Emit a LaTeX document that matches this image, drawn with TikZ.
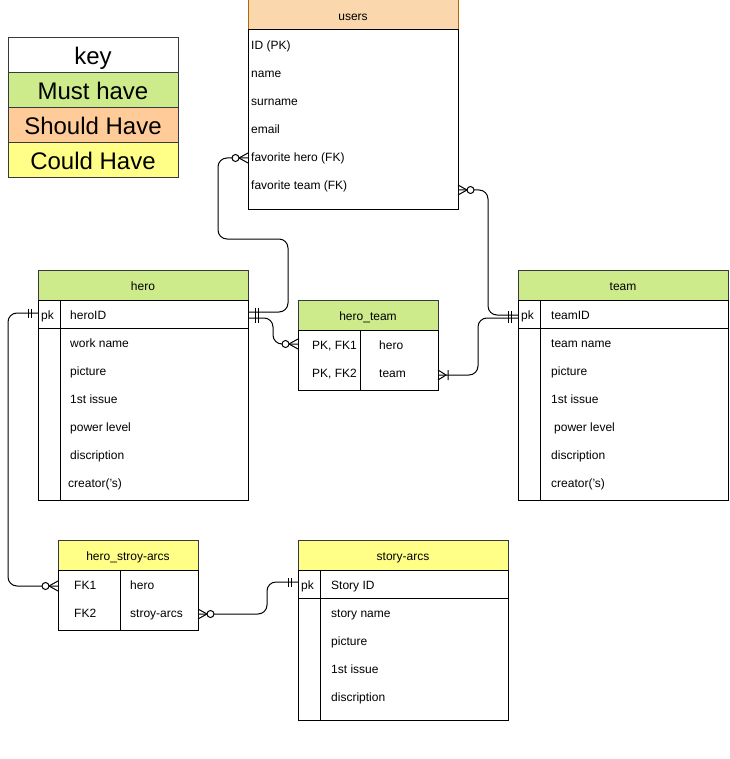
\documentclass[tikz,border=0pt]{standalone}
\usepackage{fontspec}
\setmainfont{Liberation Sans}
\usepackage{tikz}
\usetikzlibrary{positioning,decorations.markings}
\definecolor{mustgreen}{HTML}{CDEB8B}
\definecolor{shouldpeach}{HTML}{FFCC99}
\definecolor{couldyellow}{HTML}{FFFF88}
\definecolor{usersorange}{HTML}{FAD7AC}
\definecolor{usersedge}{HTML}{B46504}
\definecolor{edgegray}{HTML}{36393D}

\begin{document}
\begin{tikzpicture}[x=1pt,y=-1pt,
    box/.style={draw=black,line width=1pt,inner sep=0pt,outer sep=0pt},
    head/.style={box,draw=edgegray,minimum height=30pt,text height=10.5pt,text depth=0pt,font=\fontsize{12}{14}\selectfont},
    body/.style={box,fill=white},
    field/.style={anchor=west,inner sep=0pt,text height=10.5pt,text depth=0pt,font=\fontsize{12}{14}\selectfont},
    keyrow/.style={box,draw=edgegray,minimum width=170pt,minimum height=35pt,text height=18.5pt,text depth=0pt,font=\fontsize{24}{27}\selectfont},
    link/.style={draw,line width=1pt,rounded corners=9pt},
    one start/.style={postaction={decorate,decoration={markings,mark=at position 0 with {\draw[line width=1pt,sharp corners] (7pt,-4.5pt) -- (7pt,4.5pt) (10pt,-4.5pt) -- (10pt,4.5pt);}}}},
    one end/.style={postaction={decorate,decoration={markings,mark=at position 1 with {\draw[line width=1pt,sharp corners] (-7pt,-4.5pt) -- (-7pt,4.5pt) (-10pt,-4.5pt) -- (-10pt,4.5pt);}}}},
    zm start/.style={postaction={decorate,decoration={markings,mark=at position 0 with {\draw[line width=1pt,sharp corners] (0pt,-5pt) -- (9pt,0pt) -- (0pt,5pt); \draw[line width=1pt,fill=white] (12.5pt,0pt) circle (3.5pt);}}}},
    zm end/.style={postaction={decorate,decoration={markings,mark=at position 1 with {\draw[line width=1pt,sharp corners] (0pt,-5pt) -- (-9pt,0pt) -- (0pt,5pt); \draw[line width=1pt,fill=white] (-12.5pt,0pt) circle (3.5pt);}}}},
    om start/.style={postaction={decorate,decoration={markings,mark=at position 0 with {\draw[line width=1pt,sharp corners] (0pt,-5pt) -- (8pt,0pt) -- (0pt,5pt) (10pt,-5pt) -- (10pt,5pt);}}}}]
  \useasboundingbox (0,0) rectangle (729,759);

  \node[keyrow,fill=white,anchor=north west] (key) at (8,38) {key};
  \node[keyrow,fill=mustgreen,below=0pt of key] (must) {Must have};
  \node[keyrow,fill=shouldpeach,below=0pt of must] (should) {Should Have};
  \node[keyrow,fill=couldyellow,below=0pt of should] (could) {Could Have};

  \node[head,fill=usersorange,draw=usersedge,minimum width=210pt,anchor=north west] (users) at (248,0) {users};
  \node[body,minimum width=210pt,minimum height=180pt,below=0pt of users] (usersbody) {};
  \foreach \y/\txt/\nm in {44/{ID (PK)}/u-id,72/name/u-name,100/surname/u-surname,128/email/u-email,156/{favorite hero (FK)}/u-favhero,184/{favorite team (FK)}/u-favteam}{\node[field] (\nm) at (251,\y) {\txt};}

  \node[head,fill=mustgreen,minimum width=210pt,anchor=north west] (hero) at (38,270) {hero};
  \node[body,minimum width=210pt,minimum height=200pt,below=0pt of hero] (herobody) {};
  \draw[line width=1pt] (38,328) -- (248,328) (60,300) -- (60,500);
  \node[field] (h-pk) at (41,314) {pk};
  \node[field] (h-id) at (70,314) {heroID};
  \foreach \y/\txt in {342/work name,370/picture,398/1st issue,426/power level,454/discription}{\node[field] (h-\y) at (70,\y) {\txt};}
  \node[field] (h-482) at (68,482) {creator('s)};

  \node[head,fill=mustgreen,minimum width=210pt,anchor=north west] (team) at (518,270) {team};
  \node[body,minimum width=210pt,minimum height=200pt,below=0pt of team] (teambody) {};
  \draw[line width=1pt] (518,328) -- (728,328) (540,300) -- (540,500);
  \node[field] (t-pk) at (521,314) {pk};
  \node[field] (t-id) at (551,314) {teamID};
  \foreach \y/\txt in {342/team name,370/picture,398/1st issue,454/discription,482/creator('s)}{\node[field] (t-\y) at (551,\y) {\txt};}
  \node[field] (t-426) at (554,426) {power level};

  \node[head,fill=mustgreen,minimum width=140pt,anchor=north west] (heroteam) at (298,300) {hero\_team};
  \node[body,minimum width=140pt,minimum height=60pt,below=0pt of heroteam] (heroteambody) {};
  \draw[line width=1pt] (360,330) -- (360,390);
  \node[field] (ht-fk1) at (312,344) {PK, FK1};
  \node[field] (ht-hero) at (379,344) {hero};
  \node[field] (ht-fk2) at (312,372) {PK, FK2};
  \node[field] (ht-team) at (379,372) {team};

  \node[head,fill=couldyellow,minimum width=140pt,anchor=north west] (herostory) at (58,540) {hero\_stroy-arcs};
  \node[body,minimum width=140pt,minimum height=60pt,below=0pt of herostory] (herostorybody) {};
  \draw[line width=1pt] (120,570) -- (120,630);
  \node[field] (hs-fk1) at (74,584) {FK1};
  \node[field] (hs-hero) at (130,584) {hero};
  \node[field] (hs-fk2) at (74,612) {FK2};
  \node[field] (hs-arcs) at (130,612) {stroy-arcs};

  \node[head,fill=couldyellow,minimum width=210pt,anchor=north west] (story) at (298,540) {story-arcs};
  \node[body,minimum width=210pt,minimum height=150pt,below=0pt of story] (storybody) {};
  \draw[line width=1pt] (298,598) -- (508,598) (320,570) -- (320,720);
  \node[field] (s-pk) at (301,584) {pk};
  \node[field] (s-id) at (331,584) {Story ID};
  \foreach \y/\txt in {612/story name,640/picture,668/1st issue,696/discription}{\node[field] (s-\y) at (331,\y) {\txt};}

  \draw[link,zm start,one end] ([yshift=-2pt]u-favhero.center -| users.west) -- ++(-30,0) |- ++(70,81) |- ([yshift=2pt]h-id.center -| hero.east);
  \draw[link,one start,zm end] ([yshift=-4pt]h-id.center -| hero.east) -- ++(25,0) |- (ht-fk1.center -| heroteam.west);
  \draw[link,om start,one end] ([yshift=-3pt]ht-fk2.center -| heroteam.east) -- ++(40,0) |- ([yshift=-4pt]t-id.center -| team.west);
  \draw[link,zm start,one end] ([yshift=-6pt]u-favteam.center -| users.east) -- ++(30,0) |- ([yshift=-1pt]t-id.center -| team.west);
  \draw[link,one start,zm end] ([yshift=1pt]h-id.center -| hero.west) -- ++(-30,0) |- ([yshift=-2pt]hs-fk1.center -| herostory.west);
  \draw[link,zm start,one end] ([yshift=-2pt]hs-fk2.center -| herostory.east) -- ++(69,0) |- ([yshift=2pt]s-id.center -| story.west);
\end{tikzpicture}
\end{document}
